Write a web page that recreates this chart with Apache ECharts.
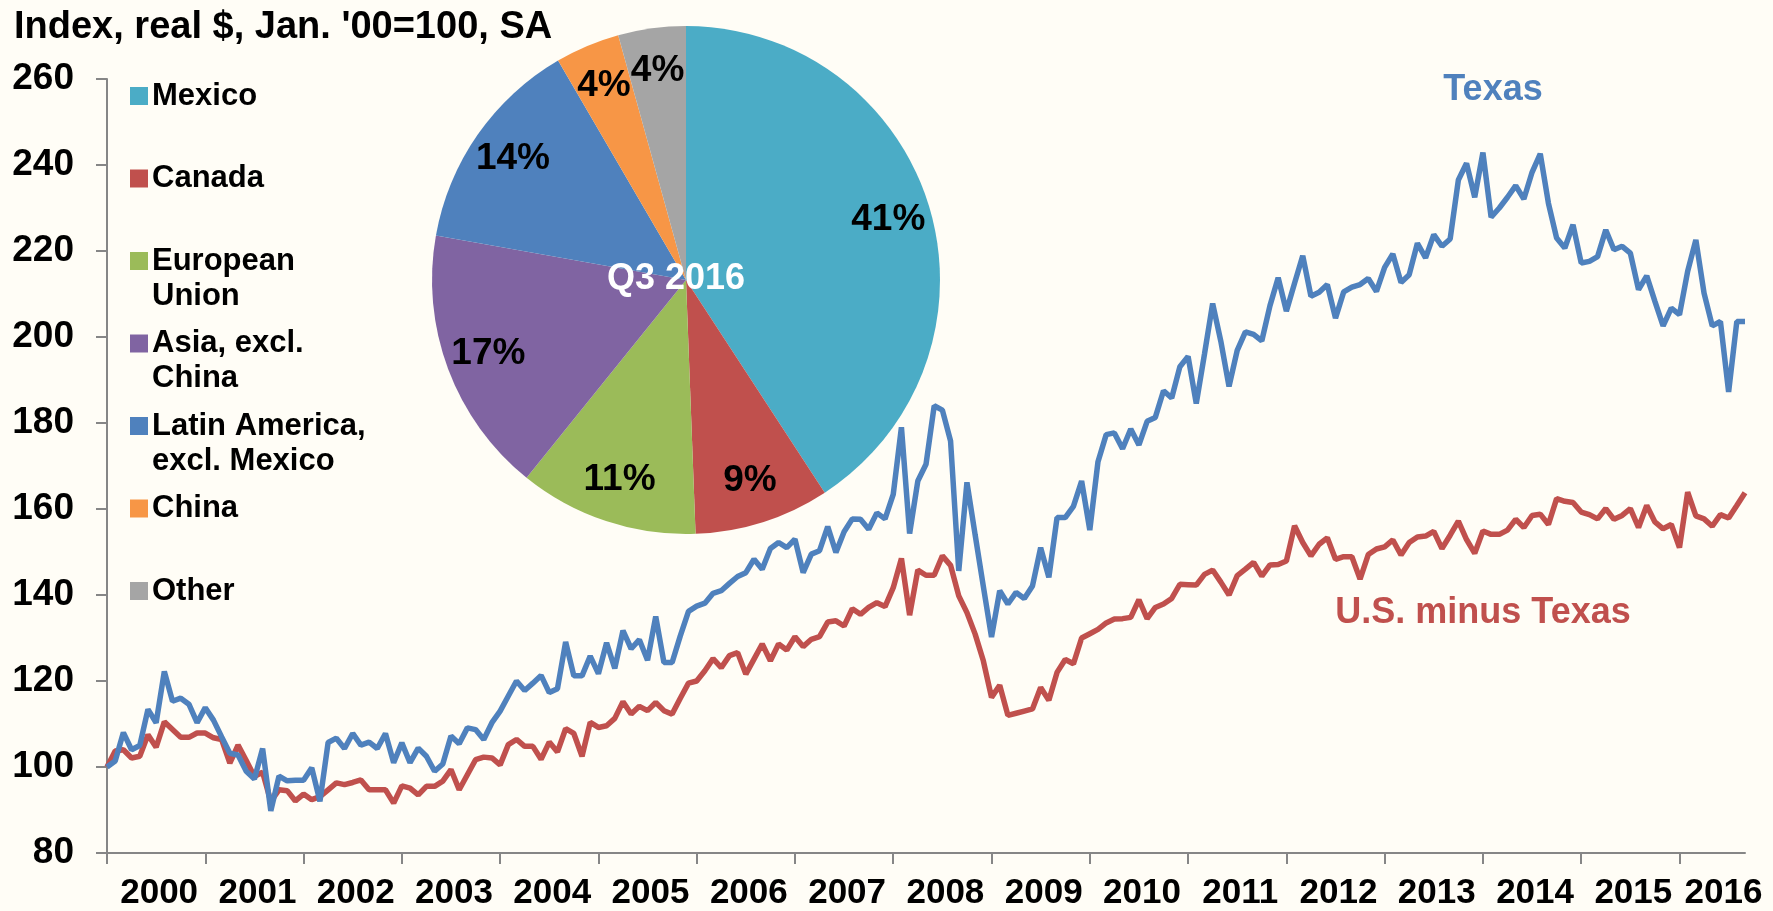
<!DOCTYPE html>
<html>
<head>
<meta charset="utf-8">
<title>Texas exports</title>
<script src="https://cdn.jsdelivr.net/npm/echarts@6/dist/echarts.min.js"></script>
<style>
    html, body { margin: 0; padding: 0; background: #fffdf6; }
    #chart { width: 1773px; height: 911px; }
</style>
</head>
<body>
<div id="chart"></div>
<script>
// monthly index, Jan 2000 - Sep 2016
const firstYear = 2000;
const texas = [
    100, 101.4, 108, 104, 105, 113.4, 110.3, 122.2, 115.3, 116, 114.6, 110.3,
    113.8, 110.9, 107, 103.2, 102.8, 99, 97.2, 104.3, 89.8, 97.9, 96.8, 96.9,
    96.9, 99.8, 92, 105.7, 106.7, 104.3, 107.8, 105.1, 105.8, 104.3, 107.8, 101,
    105.6, 101, 104.4, 102.5, 99, 100.7, 107.2, 105.4, 109.1, 108.7, 106.4, 110.3,
    113, 116.5, 120, 117.8, 119.5, 121.3, 117.3, 118.2, 129.1, 121.2, 121.2, 125.8,
    121.7, 128.9, 122.9, 131.7, 127.5, 129.6, 124.8, 135, 124.3, 124.3, 130.5, 136.2,
    137.4, 138.1, 140.4, 141, 142.7, 144.3, 145.2, 148.3, 146, 150.8, 152.2, 151,
    153, 145.2, 149.5, 150.3, 155.9, 149.9, 154.7, 157.7, 157.6, 155.3, 159.1, 157.7,
    163.4, 179, 154.3, 166.5, 170.4, 184, 183, 175.8, 145.6, 166.2, 154, 142,
    130.2, 141, 137.9, 140.6, 139.2, 142.1, 151, 144.1, 158, 158, 160.6, 166.5,
    155.1, 171, 177.3, 177.7, 174, 178.6, 174.9, 180.4, 181.3, 187.5, 185.8, 193.1,
    195.5, 184.5, 196, 207.8, 199, 188.5, 196.9, 201.2, 200.6, 199.1, 207.3, 213.8,
    206, 212.5, 218.9, 209.5, 210.4, 212.2, 204.4, 210.5, 211.6, 212.2, 213.6, 210.6,
    216.2, 219.3, 212.7, 214.5, 221.8, 218.4, 223.8, 221.1, 222.8, 236.5, 240.4, 232.5,
    242.9, 227.9, 230, 232.5, 235.2, 232.1, 238.3, 242.6, 231.1, 223, 220.7, 226.1,
    217.2, 217.6, 218.7, 224.9, 220.3, 221.1, 219.5, 211, 214.2, 208.3, 202.6, 206.7,
    205.2, 215.3, 222.6, 210.2, 202.6, 203.6, 187.2, 203.6, 203.6
];
const usMinusTexas = [
    100, 103.7, 104, 102.1, 102.5, 107.5, 104.6, 110.5, 108.7, 106.9, 106.9, 107.9,
    107.9, 106.8, 106.4, 100.9, 105.1, 101.5, 97.8, 98.8, 92, 94.7, 94.5, 92.1,
    93.7, 92.4, 93.1, 94.7, 96.3, 95.9, 96.4, 97, 94.7, 94.7, 94.7, 91.6,
    95.6, 95.1, 93.5, 95.5, 95.5, 96.7, 99.4, 94.7, 98.2, 101.7, 102.3, 102.1,
    100.5, 105.2, 106.4, 104.8, 104.8, 101.8, 105.8, 103.5, 108.9, 107.8, 102.5, 110.4,
    109.2, 109.6, 111.3, 115.2, 112.3, 114.1, 113.1, 115, 113.1, 112.3, 116, 119.5,
    120, 122.4, 125.2, 123.1, 125.9, 126.6, 121.6, 125.1, 128.6, 124.7, 128.6, 127.2,
    130.3, 128, 129.7, 130.3, 133.7, 134, 132.8, 136.8, 135.5, 137.1, 138.2, 137.3,
    141.7, 148.5, 135.3, 145.8, 144.6, 144.6, 149.1, 146.9, 139.8, 135.9, 130.9, 124.7,
    116.2, 119, 112, 112.5, 113, 113.5, 118.5, 115.5, 122, 125, 124, 130,
    131, 132, 133.5, 134.4, 134.5, 134.8, 138.9, 134.5, 137.1, 137.9, 139.2, 142.5,
    142.4, 142.3, 144.8, 145.8, 143, 140, 144.5, 146, 147.6, 144.4, 147, 147.1,
    147.9, 156.1, 152.2, 149.1, 151.8, 153.3, 148.3, 148.9, 148.9, 143.7, 149.4, 150.7,
    151.2, 152.8, 149.3, 152.2, 153.5, 153.7, 154.8, 150.8, 153.9, 157.2, 152.9, 149.7,
    154.9, 154.1, 154.1, 155.1, 157.6, 155.7, 158.5, 158.8, 156.4, 162.4, 161.8, 161.5,
    159.3, 158.7, 157.7, 160.1, 157.6, 158.5, 160.1, 155.7, 160.8, 157, 155.4, 156.4,
    151, 163.9, 158.4, 157.7, 156, 158.7, 157.9, 160.8, 163.8
];

// export destinations, Q3 2016 (share, %)
const pieNames = ['Mexico', 'Canada', 'European\nUnion', 'Asia, excl.\nChina',
    'Latin America,\nexcl. Mexico', 'China', 'Other'];
const pieShares = [40.8, 8.6, 11.4, 17.0, 13.8, 4.1, 4.3];
const pieColors = ['#4bacc6', '#c0504d', '#9bbb59', '#8064a2', '#4f81bd', '#f79646', '#a5a5a5'];

const yTicks = { min: 80, max: 260, step: 20 };
const FONT = '"Liberation Sans", Arial, sans-serif';

// month categories
const monthNames = ['Jan', 'Feb', 'Mar', 'Apr', 'May', 'Jun', 'Jul', 'Aug', 'Sep', 'Oct', 'Nov', 'Dec'];
const months = texas.map((v, i) => monthNames[i % 12] + ' ' + (firstYear + Math.floor(i / 12)));
const lastIdx = months.length - 1;

// year label sits in the middle of its band
const yearLabelIdx = new Set();
for (let s = 0; s < lastIdx; s += 12) {
    const e = Math.min(s + 12, lastIdx);
    yearLabelIdx.add(e - s === 12 ? s + 6 : Math.ceil((s + e + 1) / 2));
}

const chart = echarts.init(document.getElementById('chart'));

const pieCenter = [686, 280];
const pieRadius = 254;

const legendItems = [];
pieNames.forEach((name, i) => {
    const cy = 96 + 82.5 * i;
    legendItems.push({
        type: 'rect',
        shape: { x: 130, y: cy - 9, width: 18, height: 18 },
        style: { fill: pieColors[i] }
    });
    legendItems.push({
        type: 'text',
        style: {
            x: 152, y: cy - 17.5, text: name,
            font: 'bold 31px ' + FONT, lineHeight: 35,
            fill: '#000', verticalAlign: 'top', align: 'left'
        }
    });
});

const option = {
    backgroundColor: '#fffdf6',
    animation: false,
    title: {
        text: "Index, real $, Jan. '00=100, SA",
        left: 9, top: 4,
        textStyle: { fontFamily: FONT, fontWeight: 'bold', fontSize: 38, color: '#000' }
    },
    grid: { left: 107, right: 28, top: 79, bottom: 57, containLabel: false },
    xAxis: {
        type: 'category',
        data: months,
        boundaryGap: false,
        axisLine: { lineStyle: { color: '#868686', width: 2 } },
        axisTick: {
            length: 11,
            interval: idx => idx % 12 === 0,
            lineStyle: { color: '#868686', width: 2 }
        },
        axisLabel: {
            interval: idx => yearLabelIdx.has(idx),
            formatter: v => v.split(' ')[1],
            margin: 23,
            padding: [0, 0, 0, 6],
            fontFamily: FONT, fontWeight: 'bold', fontSize: 35, color: '#000'
        },
        splitLine: { show: false }
    },
    yAxis: {
        type: 'value',
        min: yTicks.min, max: yTicks.max, interval: yTicks.step,
        axisLine: { show: true, lineStyle: { color: '#868686', width: 2 } },
        axisTick: { show: true, length: 11, lineStyle: { color: '#868686', width: 2 } },
        axisLabel: {
            margin: 33,
            fontFamily: FONT, fontWeight: 'bold', fontSize: 37, color: '#000'
        },
        splitLine: { show: false }
    },
    series: [
        {
            name: 'U.S. minus Texas',
            type: 'line',
            data: usMinusTexas,
            showSymbol: false,
            lineStyle: { color: '#c0504d', width: 5.5 },
            z: 2
        },
        {
            name: 'Texas',
            type: 'line',
            data: texas,
            showSymbol: false,
            lineStyle: { color: '#4f81bd', width: 5.5 },
            z: 3
        },
        {
            type: 'pie',
            center: pieCenter,
            radius: pieRadius,
            startAngle: 90,
            clockwise: true,
            silent: true,
            label: { show: false },
            labelLine: { show: false },
            data: pieNames.map((n, i) => ({ name: n, value: pieShares[i], itemStyle: { color: pieColors[i] } })),
            z: 5
        },
        {
            // labels only, sits on top of the pie
            type: 'pie',
            center: pieCenter,
            radius: [162, pieRadius],
            startAngle: 90,
            clockwise: true,
            silent: true,
            itemStyle: { color: 'rgba(0,0,0,0)' },
            label: {
                show: true,
                position: 'inside',
                formatter: p => Math.round(p.value) + '%',
                fontFamily: FONT, fontWeight: 'bold', fontSize: 37, color: '#000'
            },
            labelLine: { show: false },
            data: pieNames.map((n, i) => ({ name: n, value: pieShares[i] })),
            z: 6
        }
    ],
    graphic: legendItems.concat([
        {
            type: 'text', z: 100,
            style: {
                x: 676, y: 279, text: 'Q3 2016',
                font: 'bold 36px ' + FONT, fill: '#fff',
                align: 'center', verticalAlign: 'middle'
            }
        },
        {
            type: 'text', z: 100,
            style: {
                x: 1493, y: 90, text: 'Texas',
                font: 'bold 36px ' + FONT, fill: '#4f81bd',
                align: 'center', verticalAlign: 'middle'
            }
        },
        {
            type: 'text', z: 100,
            style: {
                x: 1483, y: 613, text: 'U.S. minus Texas',
                font: 'bold 36px ' + FONT, fill: '#c0504d',
                align: 'center', verticalAlign: 'middle'
            }
        }
    ])
};

chart.setOption(option);
window.addEventListener('resize', () => chart.resize());
</script>
</body>
</html>
